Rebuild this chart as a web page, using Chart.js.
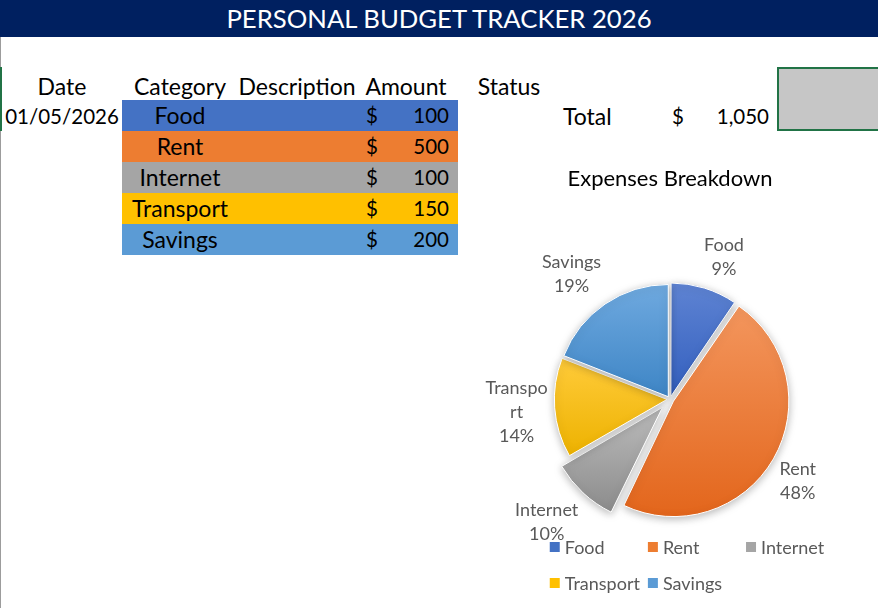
<!DOCTYPE html>
<html>
<head>
<meta charset="utf-8">
<script src="https://cdn.jsdelivr.net/npm/chart.js@4/dist/chart.umd.min.js"></script>
<style>
html,body{margin:0;padding:0;width:878px;height:608px;overflow:hidden;background:#fff;font-family:Lato,"Noto Sans",sans-serif;}
#bar{position:absolute;left:0;top:0;width:878px;height:37px;background:#002060;color:#fff;font-size:25.7px;text-align:center;line-height:37px;}
.t{position:absolute;white-space:nowrap;font-size:23px;color:#000;line-height:31px;height:31px;}
.t.num{font-size:20.5px;}
.band{position:absolute;left:122px;width:336px;height:31px;}
#edge{position:absolute;left:0;top:37px;width:1px;height:571px;background:#9c9c9c;}
#edgeSel{position:absolute;left:0;top:67px;width:2px;height:64px;background:#217346;}
#box{position:absolute;left:777px;top:67px;width:110px;height:60px;background:#c6c6c6;border:2px solid #217346;}
#chartWrap{position:absolute;left:470px;top:150px;width:434px;height:458px;}
</style>
</head>
<body>
<div id="bar">PERSONAL BUDGET TRACKER 2026</div>
<div id="edge"></div>
<div id="edgeSel"></div>
<div id="box"></div>
<div id="sheet"></div>
<div id="chartWrap"><canvas id="pie" width="434" height="458"></canvas></div>
<script>
// ---- data ----
const headers = ['Date', 'Category', 'Description', 'Amount', 'Status'];
const entryDate = '01/05/2026';
const categories = ['Food', 'Rent', 'Internet', 'Transport', 'Savings'];
const amounts = [100, 500, 100, 150, 200];
const chartTitle = 'Expenses Breakdown';
const totalLabel = 'Total';

// ---- styles ----
const palette = [
  {base:'#4472C4', light:'#5F84D3', dark:'#3460BF'},
  {base:'#ED7D31', light:'#F3955C', dark:'#E3661C'},
  {base:'#A5A5A5', light:'#B8B8B8', dark:'#8A8A8A'},
  {base:'#FFC000', light:'#FFCB3A', dark:'#EDB200'},
  {base:'#5B9BD5', light:'#70AAE0', dark:'#3F86C6'}
];
const FONT = 'Lato, "Noto Sans", sans-serif';

// ---- sheet (table) ----
const sheet = document.getElementById('sheet');
function place(text, x, yc, align, num) {
  const s = document.createElement('div');
  s.className = num ? 't num' : 't';
  s.textContent = text;
  s.style.left = x + 'px';
  s.style.top = (yc - 15.5) + 'px';
  if (align === 'center') s.style.transform = 'translateX(-50%)';
  if (align === 'right') s.style.transform = 'translateX(-100%)';
  sheet.appendChild(s);
}
const headerCenters = [62, 180, 297, 406, 509];
headers.forEach((h, i) => place(h, headerCenters[i], 86, 'center'));
place(entryDate, 62, 116, 'center', true);
categories.forEach((c, i) => {
  const top = 100 + i * 31;
  const b = document.createElement('div');
  b.className = 'band';
  b.style.top = top + 'px';
  b.style.background = palette[i].base;
  sheet.appendChild(b);
  place(c, 180, top + 15.5, 'center');
  place('$', 372, top + 15.5, 'center', true);
  place(String(amounts[i]), 449, top + 15.5, 'right', true);
});
const total = amounts.reduce((a, b) => a + b, 0);
place(totalLabel, 563, 116, 'left');
place('$', 678, 116, 'center', true);
place(total.toLocaleString('en-US'), 769, 116, 'right', true);

// ---- chart helpers ----
const PIE_R = 112;
const EXPLODE = [3, 4, 11, 3, 3];           // visual slice shift in px
const LIB_OFFSET = EXPLODE.map(v => v * 4); // Chart.js v4 draws offset/4

function percents(vals) {
  const tot = vals.reduce((a, b) => a + b, 0);
  const raw = vals.map(v => v / tot * 100);
  const fl = raw.map(Math.floor);
  const rem = 100 - fl.reduce((a, b) => a + b, 0);
  const order = raw.map((r, i) => ({i, f: r - Math.floor(r)}))
    .sort((a, b) => (b.f - a.f) > 1e-9 ? 1 : (a.f - b.f) > 1e-9 ? -1 : b.i - a.i);
  for (let k = 0; k < rem; k++) fl[order[k].i] += 1;
  return fl;
}

function sliceGradient(ctx) {
  const chart = ctx.chart, ca = chart.chartArea, i = ctx.dataIndex, c = palette[i];
  if (!ca) return c.base;
  const data = chart.data.datasets[0].data;
  const tot = data.reduce((a, b) => a + b, 0);
  let start = -Math.PI / 2;
  for (let k = 0; k < i; k++) start += data[k] / tot * 2 * Math.PI;
  const end = start + data[i] / tot * 2 * Math.PI;
  const cy = (ca.top + ca.bottom) / 2;
  const mid = (start + end) / 2, off = EXPLODE[i];
  const oy = cy + Math.sin(mid) * off;
  let minY = oy, maxY = oy;
  for (let t = 0; t <= 40; t++) {
    const a = start + (end - start) * t / 40;
    const y = oy + Math.sin(a) * PIE_R;
    minY = Math.min(minY, y); maxY = Math.max(maxY, y);
  }
  const g = chart.ctx.createLinearGradient(0, minY, 0, maxY);
  g.addColorStop(0, c.light);
  g.addColorStop(1, c.dark);
  return g;
}

function wrapText(ctx, text, maxW) {
  if (ctx.measureText(text).width <= maxW) return [text];
  const lines = [];
  let cur = '';
  for (const ch of text) {
    if (cur && ctx.measureText(cur + ch).width > maxW) { lines.push(cur); cur = ch; }
    else cur += ch;
  }
  if (cur) lines.push(cur);
  return lines;
}

const shadowPlugin = {
  id: 'pieShadow',
  beforeDatasetsDraw(chart) {
    const c = chart.ctx;
    c.save();
    c.shadowColor = 'rgba(0,0,0,0.28)';
    c.shadowBlur = 9;
    c.shadowOffsetX = 0;
    c.shadowOffsetY = 2;
  },
  afterDatasetsDraw(chart) { chart.ctx.restore(); }
};

const clamp1 = v => Math.max(-1, Math.min(1, v));

const labelPlugin = {
  id: 'sliceLabels',
  afterDatasetsDraw(chart) {
    const c = chart.ctx;
    const meta = chart.getDatasetMeta(0);
    const pct = percents(chart.data.datasets[0].data);
    c.save();
    c.font = '18px ' + FONT;
    c.fillStyle = '#595959';
    c.textAlign = 'center';
    c.textBaseline = 'middle';
    const LH = 24;
    meta.data.forEach((arc, i) => {
      const p = arc.getProps(['x', 'y', 'startAngle', 'endAngle', 'outerRadius', 'circumference'], true);
      const shift = (arc.options.offset || 0) / 4;
      const grow = shift * (1 - Math.sin(Math.min(Math.PI, p.circumference)));
      const mid = (p.startAngle + p.endAngle) / 2;
      const lines = wrapText(c, chart.data.labels[i], 68).concat([pct[i] + '%']);
      const w = Math.max(...lines.map(l => c.measureText(l).width));
      const h = lines.length * LH;
      const d = p.outerRadius + shift + grow + 7;
      const ax = p.x + Math.cos(mid) * d, ay = p.y + Math.sin(mid) * d;
      const cx = ax + clamp1(Math.cos(mid) * 3) * w / 2;
      const cy = ay + clamp1(Math.sin(mid) * 1.6) * h / 2;
      lines.forEach((l, k) => c.fillText(l, cx, cy - h / 2 + LH / 2 + k * LH));
    });
    c.restore();
  }
};

const legendPlugin = {
  id: 'gridLegend',
  afterDraw(chart) {
    const c = chart.ctx;
    c.save();
    c.font = '18px ' + FONT;
    c.textBaseline = 'middle';
    const labels = chart.data.labels;
    const box = 10, gap = 5, cols = 3;
    const widths = labels.map(l => box + gap + c.measureText(l).width);
    const colW = Math.max(...widths) + 8;
    const rows = Math.ceil(labels.length / cols);
    let lineW = 0;
    for (let r = 0; r < rows; r++) {
      const n = Math.min(cols, labels.length - r * cols);
      lineW = Math.max(lineW, (n - 1) * colW + widths[r * cols + n - 1]);
    }
    const x0 = chart.width / 2 - lineW / 2;
    const y0 = 397, rowH = 36;
    labels.forEach((l, i) => {
      const col = i % cols, row = Math.floor(i / cols);
      const x = x0 + col * colW, y = y0 + row * rowH;
      c.fillStyle = palette[i].base;
      c.fillRect(x, y - box / 2, box, box);
      c.fillStyle = '#595959';
      c.fillText(l, x + box + gap, y + 1);
    });
    c.restore();
  }
};

new Chart(document.getElementById('pie'), {
  type: 'pie',
  data: {
    labels: categories,
    datasets: [{
      data: amounts,
      backgroundColor: sliceGradient,
      borderColor: '#ffffff',
      borderWidth: 1,
      offset: LIB_OFFSET,
      hoverOffset: 0
    }]
  },
  options: {
    responsive: false,
    animation: false,
    radius: PIE_R,
    layout: {padding: {left: 0, right: 34, top: 0, bottom: 2}},
    plugins: {
      legend: {display: false},
      tooltip: {enabled: false},
      title: {
        display: true,
        text: chartTitle,
        color: '#000',
        font: {family: FONT, size: 22, weight: 'normal'},
        padding: {top: 16, bottom: 0}
      }
    }
  },
  plugins: [shadowPlugin, labelPlugin, legendPlugin]
});
</script>
</body>
</html>
